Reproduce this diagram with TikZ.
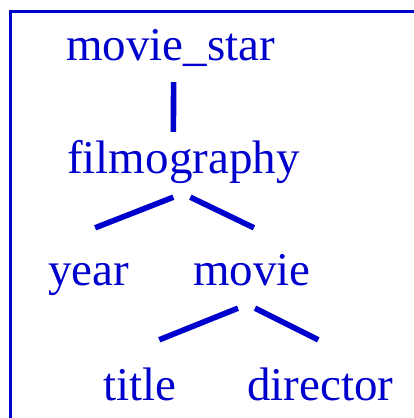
\documentclass[tikz,border=0pt]{standalone}
\usepackage{fontspec}
\setmainfont{Liberation Serif}
\usepackage{xcolor}
\usepackage{tikz}
\usetikzlibrary{positioning}
\definecolor{treeblue}{HTML}{0000CC}

\begin{document}
\begin{tikzpicture}[
        x=1pt, y=-1pt,
        element/.style={
            text=treeblue,
            font=\fontsize{47}{50}\selectfont,
            inner sep=0pt,
            text height=32pt,
            text depth=10pt,
            anchor=base west
        },
        branch/.style={line width=5.6pt,treeblue},
        frame/.style={line width=3pt,treeblue}
    ]
        \useasboundingbox (0,0) rectangle (414,418);
        \draw[frame] (416,11) -- (10,11) -- (10,420);

        \node[element] (star) at (66,60) {movie\_star};
        \node[element] (film) at (67,173) {filmography};
        \node[element] (year) at (48,285) {year};
        \node[element] (movie) at (193,285) {movie};
        \node[element] (title) at (103,400) {title};
        \node[element] (director) at (247,400) {director};

        \draw[branch] ([xshift=3pt,yshift=-12pt]star.south) -- ([xshift=-10pt,yshift=9pt]film.north);
        \draw[branch] ([xshift=-10pt,yshift=-14pt]film.south) -- ([xshift=6.5pt,yshift=25pt]year.north);
        \draw[branch] ([xshift=7pt,yshift=-14pt]film.south) -- ([xshift=2pt,yshift=25pt]movie.north);
        \draw[branch] ([xshift=-14pt,yshift=-13pt]movie.south) -- ([xshift=19.5pt,yshift=28pt]title.north);
        \draw[branch] ([xshift=3pt,yshift=-13pt]movie.south) -- ([xshift=-2pt,yshift=28pt]director.north);
    \end{tikzpicture}
\end{document}
